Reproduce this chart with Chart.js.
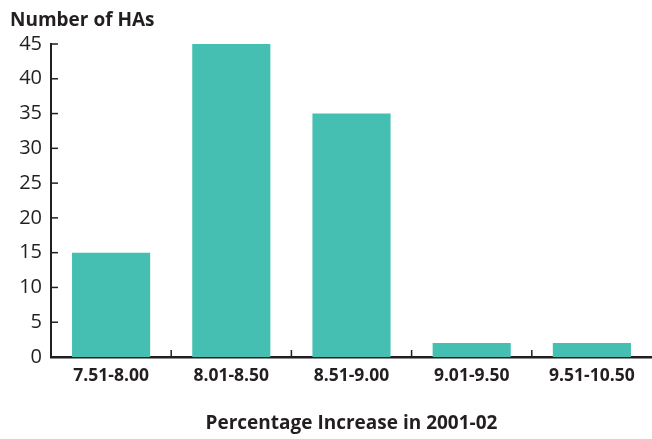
<!DOCTYPE html>
<html>
<head>
<meta charset="utf-8">
<script src="https://cdn.jsdelivr.net/npm/chart.js@4/dist/chart.umd.min.js"></script>
<style>
  html, body { margin: 0; padding: 0; background: #ffffff; }
  #wrap { width: 652px; height: 439px; position: relative; }
</style>
</head>
<body>
<div id="wrap"><canvas id="chart"></canvas></div>
<script>
// Distribution of health authorities by percentage increase, 2001-02
const categories = ['7.51-8.00', '8.01-8.50', '8.51-9.00', '9.01-9.50', '9.51-10.50'];
const numberOfHAs = [15, 45, 35, 2, 2];
const yTicks = [0, 5, 10, 15, 20, 25, 30, 35, 40, 45];
const yAxisTitle = 'Number of HAs';
const xAxisTitle = 'Percentage Increase in 2001-02';

const INK = '#231f20';
const BAR = '#44bfb1';
const FONT = '"Open Sans", "DejaVu Sans", sans-serif';

// Inward tick marks on both axes plus the y-axis caption above the plot
const axisDecor = {
  id: 'axisDecor',
  afterDraw(chart) {
    const ctx = chart.ctx;
    const xs = chart.scales.x, ys = chart.scales.y;
    const area = chart.chartArea;
    ctx.save();
    ctx.strokeStyle = INK;
    ctx.lineWidth = 1.5;
    // y ticks pointing right
    yTicks.forEach(v => {
      const y = ys.getPixelForValue(v);
      ctx.beginPath();
      ctx.moveTo(area.left, y);
      ctx.lineTo(area.left + 7, y);
      ctx.stroke();
    });
    // x ticks between categories pointing up
    for (let i = 1; i < categories.length; i++) {
      const x = (xs.getPixelForValue(i - 1) + xs.getPixelForValue(i)) / 2;
      ctx.beginPath();
      ctx.moveTo(x, area.bottom);
      ctx.lineTo(x, area.bottom - 7);
      ctx.stroke();
    }
    // y caption
    ctx.fillStyle = INK;
    ctx.font = 'bold 19px ' + FONT;
    ctx.textAlign = 'left';
    ctx.textBaseline = 'alphabetic';
    ctx.fillText(yAxisTitle, 10, 26);
    ctx.restore();
  }
};

new Chart(document.getElementById('chart'), {
  type: 'bar',
  data: {
    labels: categories,
    datasets: [{
      data: numberOfHAs,
      backgroundColor: BAR,
      borderWidth: 0,
      barPercentage: 0.65,
      categoryPercentage: 1.0
    }]
  },
  options: {
    responsive: true,
    maintainAspectRatio: false,
    animation: false,
    devicePixelRatio: 1,
    layout: { padding: { top: 44, right: 0, bottom: 0, left: 0 } },
    plugins: {
      legend: { display: false },
      tooltip: { enabled: false }
    },
    scales: {
      x: {
        grid: { display: false, drawTicks: false },
        border: { display: true, color: INK, width: 2.5 },
        ticks: {
          color: INK,
          font: { family: FONT, size: 17.5, weight: 'bold' },
          padding: 9,
          maxRotation: 0
        },
        title: {
          display: true,
          text: xAxisTitle,
          color: INK,
          font: { family: FONT, size: 19, weight: 'bold' },
          padding: { top: 0, bottom: 4 }
        },
        afterFit(scale) { scale.height = 82; }
      },
      y: {
        min: 0,
        max: 45,
        afterBuildTicks(scale) { scale.ticks = yTicks.map(v => ({ value: v })); },
        grid: { display: false, drawTicks: false },
        border: { display: true, color: INK, width: 2 },
        ticks: {
          color: INK,
          font: { family: FONT, size: 20 },
          padding: 9
        },
        afterFit(scale) { scale.width = 51; }
      }
    }
  },
  plugins: [axisDecor]
});
</script>
</body>
</html>
